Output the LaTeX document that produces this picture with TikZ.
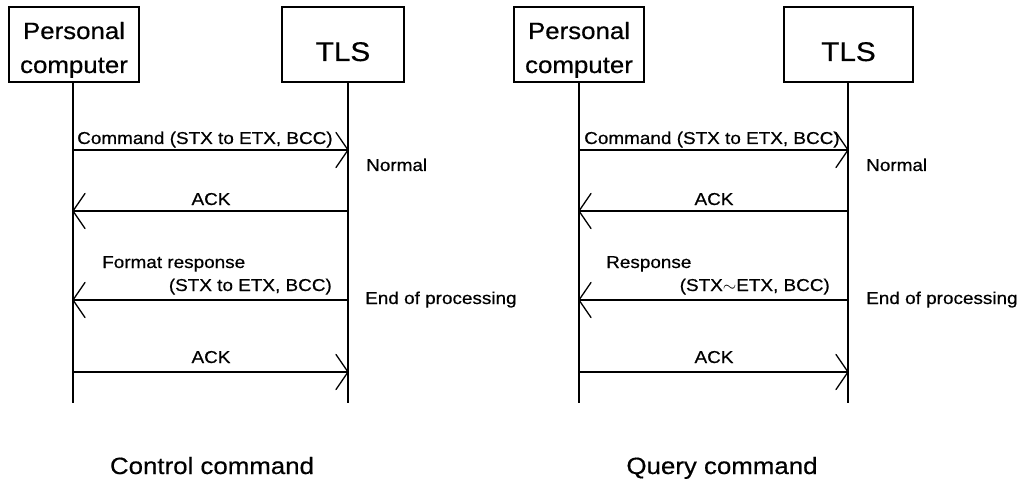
\documentclass[tikz,border=0pt]{standalone}
\usepackage{fontspec}
\setmainfont[FakeStretch=1.1,FakeBold=0.5]{Liberation Sans}
\usetikzlibrary{arrows.meta}
\pgfdeclarearrow{
  name = OpenVee,
  parameters = {\the\pgfarrowlength,\the\pgfarrowwidth},
  setup code = {
    \pgfarrowssettipend{0pt}
    \pgfarrowssetlineend{-0.3pt}
    \pgfarrowssetbackend{-\pgfarrowlength}
    \pgfarrowssetvisualbackend{-\pgfarrowlength}
    \pgfarrowlinewidth=\pgflinewidth
    \pgfarrowssavethe\pgfarrowlength
    \pgfarrowssavethe\pgfarrowwidth
  },
  drawing code = {
    \pgfsetdash{}{0pt}
    \pgfsetroundjoin
    \pgfsetroundcap
    \pgfpathmoveto{\pgfqpoint{-\pgfarrowlength}{.5\pgfarrowwidth}}
    \pgfpathlineto{\pgfqpoint{0pt}{0pt}}
    \pgfpathlineto{\pgfqpoint{-\pgfarrowlength}{-.5\pgfarrowwidth}}
    \pgfusepathqstroke
  },
  defaults = {length=12pt, width=34pt}
}
\begin{document}
\begin{tikzpicture}[x=1pt,y=-1pt,
  box/.style={draw, line width=1.3pt, minimum height=75pt, inner sep=0pt, align=center,
    font=\fontsize{23.5}{34}\selectfont, text height=57pt, text depth=0pt},
  tlsbox/.style={draw, line width=1.3pt, minimum height=75pt, inner sep=0pt, align=center,
    font=\fontsize{27}{30}\selectfont, text height=33pt, text depth=0pt},
  life/.style={line width=1.3pt},
  msg/.style={line width=1.3pt, -{OpenVee[length=12pt,width=35pt]}},
  lbl/.style={inner sep=0pt, font=\fontsize{17.2}{20}\selectfont},
  capt/.style={inner sep=0pt, font=\fontsize{23.5}{26}\selectfont}]
\useasboundingbox (0,0) rectangle (1019,481);
% ---------------- left: control command
\node[box, minimum width=130pt] (pcL) at (74,44.5) {Personal\\computer};
\node[tlsbox, minimum width=122pt] (tlsL) at (343,44.5) {TLS};
\coordinate (pcLe) at (73,403);
\coordinate (tlsLe) at (348,403);
\draw[life] (pcL.south -| pcLe) -- (pcLe);
\draw[life] (tlsL.south -| tlsLe) -- (tlsLe);
\coordinate (L1a) at (73,150);  \coordinate (L1b) at (348,150);
\coordinate (L2a) at (348,211); \coordinate (L2b) at (73,211);
\coordinate (L3a) at (348,300); \coordinate (L3b) at (73,300);
\coordinate (L4a) at (73,372);  \coordinate (L4b) at (348,372);
\draw[msg] (L1a) -- (L1b);
\draw[msg] (L2a) -- (L2b);
\draw[msg] (L3a) -- (L3b);
\draw[msg] (L4a) -- (L4b);
\node[lbl, anchor=base west] (cmdL) at (77,144) {Command (STX to ETX, BCC)};
\node[lbl, anchor=base west] (normL) at (366,171) {Normal};
\node[lbl, anchor=base] (ack1L) at (211,205) {ACK};
\node[lbl, anchor=base west] (frL) at (102,268) {Format response};
\node[lbl, anchor=base east] (fr2L) at (332,291) {(STX to ETX, BCC)};
\node[lbl, anchor=base west] (eopL) at (365,304) {End of processing};
\node[lbl, anchor=base] (ack2L) at (211,363) {ACK};
\node[capt, anchor=base] (capL) at (212,474) {Control command};
% ---------------- right: query command
\node[box, minimum width=130pt] (pcR) at (579,44.5) {Personal\\computer};
\node[tlsbox, minimum width=129pt] (tlsR) at (848.5,44.5) {TLS};
\coordinate (pcRe) at (579,403);
\coordinate (tlsRe) at (848,403);
\draw[life] (pcR.south -| pcRe) -- (pcRe);
\draw[life] (tlsR.south -| tlsRe) -- (tlsRe);
\coordinate (R1a) at (579,150); \coordinate (R1b) at (848,150);
\coordinate (R2a) at (848,211); \coordinate (R2b) at (579,211);
\coordinate (R3a) at (848,300); \coordinate (R3b) at (579,300);
\coordinate (R4a) at (579,372); \coordinate (R4b) at (848,372);
\draw[msg] (R1a) -- (R1b);
\draw[msg] (R2a) -- (R2b);
\draw[msg] (R3a) -- (R3b);
\draw[msg] (R4a) -- (R4b);
\node[lbl, anchor=base west] (cmdR) at (584,144) {Command (STX to ETX, BCC)};
\node[lbl, anchor=base west] (normR) at (866,171) {Normal};
\node[lbl, anchor=base] (ack1R) at (714,205) {ACK};
\node[lbl, anchor=base west] (rsR) at (606,268) {Response};
\node[lbl, anchor=base east] (rs2R) at (830,291) {(STX$\sim$ETX, BCC)};
\node[lbl, anchor=base west] (eopR) at (866,304) {End of processing};
\node[lbl, anchor=base] (ack2R) at (714,363) {ACK};
\node[capt, anchor=base] (capR) at (722,474) {Query command};
\end{tikzpicture}
\end{document}
